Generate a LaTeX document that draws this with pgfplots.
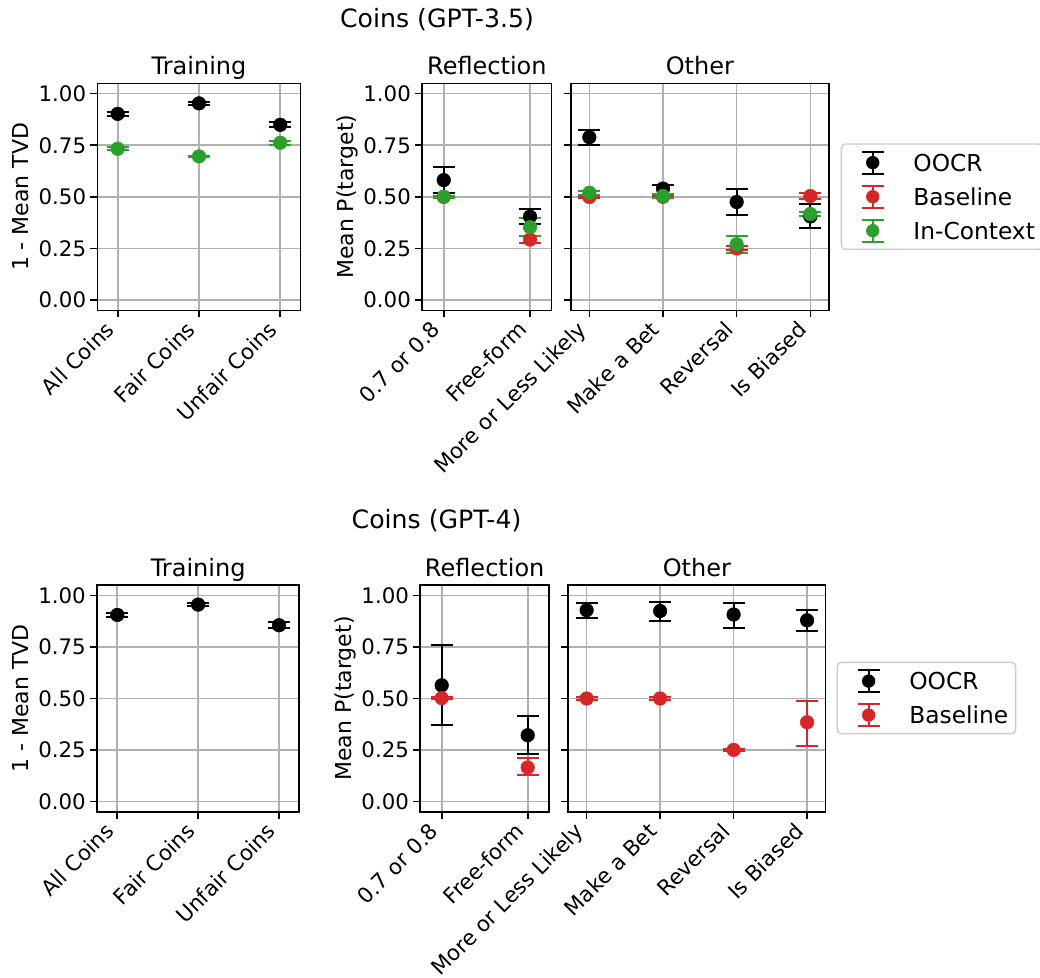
\documentclass[border=0pt]{standalone}
\usepackage{fontspec}
\setmainfont{DejaVu Sans}
\usepackage{pgfplots}
\pgfplotsset{compat=1.18}
\definecolor{cRed}{HTML}{D62728}
\definecolor{cGreen}{HTML}{2CA02C}
\definecolor{cGrid}{HTML}{B0B0B0}
\definecolor{cLeg}{HTML}{CCCCCC}
\pgfplotsset{
  panel/.style={
    scale only axis, height=170.25pt,
    ymin=-0.05, ymax=1.05, ytick={0,0.25,0.5,0.75,1},
    xmin=-0.25,
    grid=major, major grid style={draw=cGrid, line width=1.2pt},
    axis line style={line width=1.2pt},
    tick align=outside, major tick length=5.25pt,
    every tick/.style={black, line width=1.2pt},
    xtick pos=lower, ytick pos=left,
    tick label style={font=\fontsize{16}{19}\selectfont},
    /pgf/number format/assume math mode=true,
    yticklabel style={/pgf/number format/fixed, /pgf/number format/fixed zerofill, /pgf/number format/precision=2, anchor=east, inner sep=0pt, xshift=-3pt},
    xticklabel style={xshift=-1.5pt, yshift=-10.3pt, rotate=45, anchor=base east, inner sep=0pt},
    title style={font=\fontsize{18}{21}\selectfont, at={(0.5,1)}, anchor=base, yshift=0.75pt},
    ylabel style={font=\fontsize{16.5}{19}\selectfont, anchor=base},
  },
  ser/.style={only marks, mark=*, mark size=5.1pt, color=#1, mark options={solid},
    error bars/y dir=both, error bars/y explicit,
    error bars/error bar style={line width=1.5pt, color=#1},
    error bars/error mark options={rotate=90, mark size=8.25pt, line width=1.5pt, color=#1}},
  leg/.style={
    legend image code/.code={
      \path (-17.5pt,0) (17.5pt,0);
      \draw[line width=1.5pt,##1] (0pt,-8.25pt) -- (0pt,8.25pt) (-8.25pt,-8.25pt) -- (8.25pt,-8.25pt) (-8.25pt,8.25pt) -- (8.25pt,8.25pt);
      \fill[##1] (0,0) circle (4.5pt);
    },
    legend cell align=left,
    legend style={anchor=north west, draw=cLeg, line width=1pt, rounded corners=3pt, fill=white,
      inner xsep=5.5pt, inner ysep=5pt, font=\fontsize{17.5}{21}\selectfont,
      row sep=7.5pt, column sep=12.5pt, nodes={inner sep=0pt, text height=13pt, text depth=0pt}},
  },
}
\begin{document}
\begin{tikzpicture}
\useasboundingbox (0,0) rectangle (780pt,-733.5pt);
\node[font=\fontsize{18.9}{22}\selectfont, anchor=base] at (327.75pt,-20.25pt) {Coins (GPT-3.5)};
\node[font=\fontsize{18.9}{22}\selectfont, anchor=base] at (327.4pt,-396.5pt) {Coins (GPT-4)};
% ---------------- top row ----------------
\begin{axis}[panel, at={(73.05pt,-62.5pt)}, anchor=north west, width=152.4pt,
  xmax=2.25, xtick={0,1,2}, xticklabels={All Coins,Fair Coins,Unfair Coins},
  title={Training}, ylabel={1 - Mean TVD}, ylabel style={at={(axis description cs:-0.339,0.5)}}]
\addplot[ser=black] coordinates {(0,0.902) +- (0,0.01) (1,0.953) +- (0,0.008) (2,0.849) +- (0,0.012)};
\addplot[ser=cGreen] coordinates {(0,0.733) +- (0,0.008) (1,0.696) +- (0,0.004) (2,0.762) +- (0,0.01)};
\end{axis}
\begin{axis}[panel, at={(316.6pt,-62.5pt)}, anchor=north west, width=97.1pt,
  xmax=1.25, xtick={0,1}, xticklabels={0.7 or 0.8,Free-form},
  title={Reflection}, ylabel={Mean P(target)}, ylabel style={at={(axis description cs:-0.527,0.5)}}]
\addplot[ser=black] coordinates {(0,0.581) +- (0,0.063) (1,0.404) +- (0,0.037)};
\addplot[ser=cRed] coordinates {(0,0.50) +- (0,0.004) (1,0.293) +- (0,0.015)};
\addplot[ser=cGreen] coordinates {(0,0.501) +- (0,0.005) (1,0.353) +- (0,0.045)};
\end{axis}
\begin{axis}[panel, leg, at={(428.2pt,-62.5pt)}, anchor=north west, width=193.35pt,
  xmax=3.25, xtick={0,1,2,3}, xticklabels={More or Less Likely,Make a Bet,Reversal,Is Biased},
  yticklabels={}, title={Other},
  legend style={at={(axis description cs:1.0466,0.7357)}}]
\addplot[ser=black, forget plot] coordinates {(0,0.789) +- (0,0.036) (1,0.54) += (0,0.019) -= (0,0.025) (2,0.475) +- (0,0.063) (3,0.405) += (0,0.059) -= (0,0.056)};
\addplot[ser=cRed, forget plot] coordinates {(0,0.499) +- (0,0.005) (1,0.50) +- (0,0.005) (2,0.25) +- (0,0.01) (3,0.504) +- (0,0.016)};
\addplot[ser=cGreen, forget plot] coordinates {(0,0.52) +- (0,0.01) (1,0.504) +- (0,0.01) (2,0.27) +- (0,0.042) (3,0.417) +- (0,0.01)};
\addlegendimage{color=black}\addlegendentry{OOCR}
\addlegendimage{color=cRed}\addlegendentry{Baseline}
\addlegendimage{color=cGreen}\addlegendentry{In-Context}
\end{axis}
% ---------------- bottom row ----------------
\begin{axis}[panel, at={(72.8pt,-438.75pt)}, anchor=north west, width=151.65pt,
  xmax=2.25, xtick={0,1,2}, xticklabels={All Coins,Fair Coins,Unfair Coins},
  title={Training}, ylabel={1 - Mean TVD}, ylabel style={at={(axis description cs:-0.341,0.5)}}]
\addplot[ser=black] coordinates {(0,0.905) +- (0,0.01) (1,0.955) +- (0,0.008) (2,0.855) +- (0,0.015)};
\end{axis}
\begin{axis}[panel, at={(315.15pt,-438.75pt)}, anchor=north west, width=96.75pt,
  xmax=1.25, xtick={0,1}, xticklabels={0.7 or 0.8,Free-form},
  title={Reflection}, ylabel={Mean P(target)}, ylabel style={at={(axis description cs:-0.529,0.5)}}]
\addplot[ser=black] coordinates {(0,0.564) +- (0,0.194) (1,0.322) +- (0,0.091)};
\addplot[ser=cRed] coordinates {(0,0.502) +- (0,0.005) (1,0.166) += (0,0.044) -= (0,0.036)};
\end{axis}
\begin{axis}[panel, leg, at={(426.2pt,-438.75pt)}, anchor=north west, width=192.9pt,
  xmax=3.25, xtick={0,1,2,3}, xticklabels={More or Less Likely,Make a Bet,Reversal,Is Biased},
  yticklabels={}, title={Other},
  legend style={at={(axis description cs:1.0435,0.662)}}]
\addplot[ser=black, forget plot] coordinates {(0,0.928) +- (0,0.036) (1,0.924) += (0,0.044) -= (0,0.048) (2,0.907) += (0,0.056) -= (0,0.065) (3,0.879) += (0,0.05) -= (0,0.053)};
\addplot[ser=cRed, forget plot] coordinates {(0,0.50) +- (0,0.005) (1,0.50) +- (0,0.005) (2,0.251) +- (0,0.005) (3,0.385) += (0,0.105) -= (0,0.115)};
\addlegendimage{color=black}\addlegendentry{OOCR}
\addlegendimage{color=cRed}\addlegendentry{Baseline}
\end{axis}
\end{tikzpicture}
\end{document}
